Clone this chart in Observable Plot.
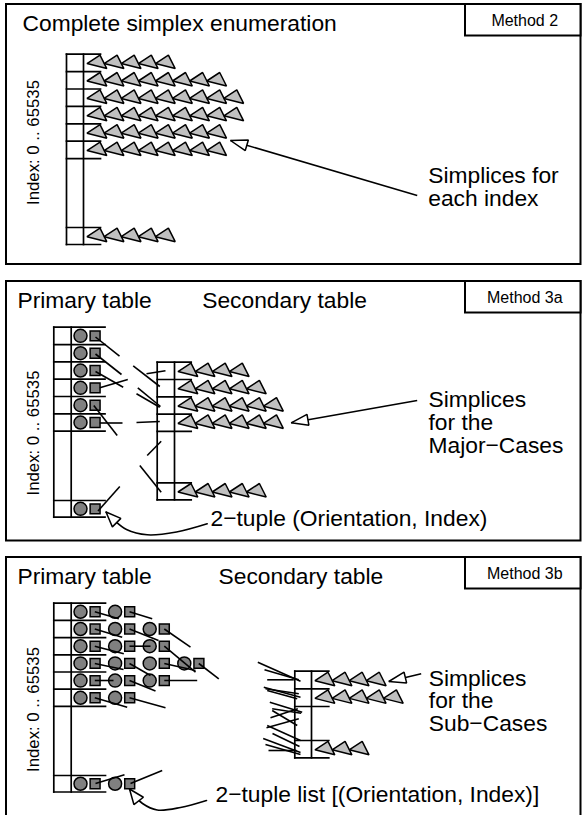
<!DOCTYPE html>
<html><head><meta charset="utf-8">
<script src="https://cdn.jsdelivr.net/npm/d3@7"></script>
<script src="https://cdn.jsdelivr.net/npm/@observablehq/plot@0.6"></script>
<style>body{margin:0;background:#fff}</style>
</head><body><div id="chart"></div>
<script>
// ---------------- data ----------------
const methods = ["Method 2", "Method 3a", "Method 3b"];
const leftTitles = ["Complete simplex enumeration", "Primary table", "Primary table"];
const rightTitles = ["", "Secondary table", "Secondary table"];
const indexLabel = "Index: 0 .. 65535";
const simplicesM2 = [5, 8, 9, 9, 8, 8, 5];     // six rows + last index
const tuplesM3a = [1, 1, 1, 1, 1, 1, 1];        // primary table 3a
const simplicesM3a = [4, 5, 6, 6, 5];           // four rows + last
const tuplesM3b = [2, 3, 3, 4, 3, 2, 2];        // primary table 3b
const simplicesM3b = [4, 5, 3];                 // two rows + last
const notes = [["Simplices for", "each index"], ["Simplices", "for the", "Major\u2212Cases"], ["Simplices", "for the", "Sub\u2212Cases"]];
const tupleNotes = ["2\u2212tuple (Orientation, Index)", "2\u2212tuple list [(Orientation, Index)]"];

// ---------------- layout (diagram units) ----------------
const FS = 22.8;
const L = {
  panels: [[6, 4, 580.5, 264], [6, 281, 580.5, 540.5], [6, 557, 580.5, 830]],
  methodX1: 465, methodH: 31.5,
  titleX: [22, 17, 17], rightTitleX: [0, 201.7, 218], titleDy: 26,
  indexX: 33, indexY: [142, 432.5, 709],
  noteX: [427.7, 428, 428.3], noteY: [182.7, 406.7, 685], noteLH: 22.8,
  tupleNoteXY: [[210, 525], [215, 801.7]],
  grids: {
    m2:  {left: 66,    top: 53.7,  rowH: 17.4,  colW: 17,   right: 100,   lastTop: 227,   cellH: 17},
    p3a: {left: 53.3,  top: 326.7, rowH: 17.33, colW: 17.4, right: 104.5, lastTop: 500,   cellH: 16.7},
    s3a: {left: 156.7, top: 361.7, rowH: 17.3,  colW: 17.3, right: 190.7, lastTop: 482.3, cellH: 17},
    p3b: {left: 53.3,  top: 602.7, rowH: 17.2,  colW: 17.4, right: 105,   lastTop: 775,   cellH: 16.5},
    s3b: {left: 294.3, top: 670.7, rowH: 17.65, colW: 16.7, right: 328.3, lastTop: 740,   cellH: 17.3}
  },
  triStep: 17.1, pairStep: 34.6,
  stubs: [
    // Method 3a: pointers out of the primary table
    [95,336.5,119,355.7],[95,353.5,121,374],[95,371,122.7,386.7],[99.3,387.3,127.3,379],[93.3,405,116.7,435],[99.3,422.5,122,422.5],
    // Method 3a: pointers into the secondary table
    [132.7,365.3,159.3,386],[146,373.3,165,370.3],[137.3,387.3,160,406],[136,393.3,159.3,406.7],[136,422,159.3,421],[146.7,455,160.7,440.7],[139.3,465,160.7,491.7],
    [97.5,510.5,119.3,486],
    // Method 3b: pointers out of the primary table
    [94.3,611.3,118.3,618.3],[129,611.3,151.7,618.3],
    [94.3,628.5,121.7,636.7],[129,628.5,158,640],[163.8,628.5,190,646.7],
    [94.3,645.7,123.3,653.3],[129,645.7,150,645.7],[163.8,645.7,195,671.7],
    [94.3,663,123,669],[129,663,150,675],[163.8,663,195,670],[198.3,663,218.3,678.3],
    [94.3,680,113,680],[129,680,155,690.5],[163.8,680,196.7,680],
    [94.3,697.3,126.7,706.7],[129,697.3,165,707.3],
    [95,783,124,774.3],[130,783,161.7,770],
    // Method 3b: pointers into the secondary table
    [257.3,661.7,300,680.7],[264,669.3,298.3,679.3],[266.7,679.3,293.3,679.3],
    [263.3,686.7,300,696.7],[265,688.3,298.3,693.3],[266.7,690,296.7,698.3],
    [269.3,701.7,301.7,711.7],[271.7,708.3,300.7,712.7],
    [270,717.3,297.3,708.3],[271.7,710,296.7,725],[266,727.3,298.3,718.3],[266.7,725,300,740],
    [262.7,738,300,752],[265,744,300,754],[268,750,296,750],[272,733,299,746]
  ],
  arrows: [[416.7,195,230,140],[416.7,400,290.7,422.3],[420.7,673.3,388.3,681]],
  curves: [
    [[206.7,523.3],[176,531.5],[146.7,534.3],[126,529],[113,519],[105.5,511.5]],
    [[206,800],[180,807],[156.7,809.5],[142,803],[134,795],[129,788.5]]
  ]
};

// ---------------- derived geometry ----------------
const links = [];
const polys = [];
const circles = [];
const squares = [];
function rowCenter(g, i, n) { return i < n ? g.top + (i + 0.5) * g.rowH : g.lastTop + g.cellH / 2; }
function grid(g, nRows) {
  const mid = g.left + g.colW, bottom = g.lastTop + g.cellH;
  links.push({x1: g.left, y1: g.top, x2: g.left, y2: bottom});
  links.push({x1: mid, y1: g.top, x2: mid, y2: bottom});
  for (let i = 0; i <= nRows; i++) { const y = g.top + i * g.rowH; links.push({x1: g.left, y1: y, x2: g.right, y2: y}); }
  links.push({x1: g.left, y1: g.lastTop, x2: g.right, y2: g.lastTop});
  links.push({x1: g.left, y1: bottom, x2: g.right, y2: bottom});
}
let pid = 0;
function simplices(g, counts) {
  const n = counts.length - 1;
  grid(g, n);
  counts.forEach((c, i) => {
    const cy = rowCenter(g, i, n) + 0.7;
    for (let k = 0; k < c; k++) {
      const tx = g.left + g.colW + 3.5 + k * L.triStep;
      const id = pid++;
      [[0, 0], [13, -8.5], [19.8, 5]].forEach(([dx, dy]) => polys.push({id, x: tx + dx, y: cy + dy, fill: "#c0c0c0"}));
    }
  });
}
function tuples(g, counts) {
  const n = counts.length - 1;
  grid(g, n);
  counts.forEach((c, i) => {
    const cy = rowCenter(g, i, n);
    for (let k = 0; k < c; k++) {
      const cx = g.left + g.colW + 9.3 + k * L.pairStep;
      circles.push({x: cx, y: cy});
      squares.push({x: cx + 14.6, y: cy});
    }
  });
}
simplices(L.grids.m2, simplicesM2);
tuples(L.grids.p3a, tuplesM3a);
simplices(L.grids.s3a, simplicesM3a);
tuples(L.grids.p3b, tuplesM3b);
simplices(L.grids.s3b, simplicesM3b);

const stubLinks = L.stubs.map(([x1, y1, x2, y2]) => ({x1, y1, x2, y2}));
const arrowLinks = L.arrows.map(([x1, y1, x2, y2]) => ({x1, y1, x2, y2}));
function head(fx, fy, tx, ty, len, w) {
  const dx = fx - tx, dy = fy - ty, d = Math.hypot(dx, dy), ux = dx / d, uy = dy / d;
  const id = pid++;
  [[tx, ty], [tx + len * ux - w * uy, ty + len * uy + w * ux], [tx + len * ux + w * uy, ty + len * uy - w * ux]]
    .forEach(([x, y]) => polys.push({id, x, y, fill: "white"}));
}
L.arrows.forEach(([x1, y1, x2, y2]) => head(x1, y1, x2, y2, 17, 5.5));
const curvePts = [];
L.curves.forEach((c, j) => {
  c.forEach(([x, y]) => curvePts.push({c: j, x, y}));
  const [a, b] = c.slice(-2);
  head(a[0], a[1], b[0], b[1], 15, 6);
});

// texts
const panelTops = L.panels.map(p => p[1]);
const titleTexts = [];
leftTitles.forEach((t, i) => titleTexts.push({x: L.titleX[i], y: panelTops[i] + L.titleDy, t}));
rightTitles.forEach((t, i) => { if (t) titleTexts.push({x: L.rightTitleX[i], y: panelTops[i] + L.titleDy, t}); });
tupleNotes.forEach((t, i) => titleTexts.push({x: L.tupleNoteXY[i][0], y: L.tupleNoteXY[i][1], t}));
// multi-line notes: y is the baseline of the last line
const noteTexts = notes.map((lines, i) => ({x: L.noteX[i], y: L.noteY[i] + (lines.length - 1) * L.noteLH, t: lines.join("\n")}));
const methodBoxes = methods.map((m, i) => ({x1: L.methodX1, y1: panelTops[i], x2: L.panels[i][2], y2: panelTops[i] + L.methodH, m}));
const frames = L.panels.map(([x1, y1, x2, y2]) => ({x1, y1, x2, y2}));
const indexTexts = L.indexY.map(y => ({x: L.indexX, y, t: indexLabel}));

const chart = Plot.plot({
  width: 583, height: 815, margin: 0,
  x: {domain: [0, 583], range: [0, 583], axis: null},
  y: {domain: [0, 815], range: [0, 815], axis: null},
  style: {fontFamily: "'Liberation Sans', Arial, Helvetica, sans-serif", background: "white", color: "black"},
  marks: [
    Plot.rect(frames, {x1: "x1", y1: "y1", x2: "x2", y2: "y2", fill: "white", stroke: "black", strokeWidth: 2}),
    Plot.rect(methodBoxes, {x1: "x1", y1: "y1", x2: "x2", y2: "y2", fill: "white", stroke: "black", strokeWidth: 2}),
    Plot.text(methodBoxes, {x: d => (d.x1 + d.x2) / 2 + 1.5, y: d => (d.y1 + d.y2) / 2 + 0.5, text: "m", fontSize: 16, fill: "black"}),
    Plot.text(titleTexts, {x: "x", y: "y", text: "t", textAnchor: "start", lineAnchor: "bottom", fontSize: FS, fill: "black"}),
    Plot.text(noteTexts, {x: "x", y: "y", text: "t", textAnchor: "start", lineAnchor: "bottom", lineHeight: L.noteLH / FS, fontSize: FS, fill: "black"}),
    Plot.text(indexTexts, {x: "x", y: "y", text: "t", rotate: -90, fontSize: 16.8, fill: "black"}),
    Plot.link(links, {x1: "x1", y1: "y1", x2: "x2", y2: "y2", stroke: "black", strokeWidth: 1.7, strokeLinecap: "square"}),
    Plot.line(polys.filter(d => d.fill !== "white"), {x: "x", y: "y", z: "id", curve: "linear-closed", fill: "#c0c0c0", stroke: "black", strokeWidth: 1.5, strokeLinejoin: "miter"}),
    Plot.dot(circles, {x: "x", y: "y", r: 6.5, fill: "#808080", stroke: "black", strokeWidth: 1.5}),
    Plot.dot(squares, {x: "x", y: "y", r: 5.6, symbol: "square", fill: "#808080", stroke: "black", strokeWidth: 1.5}),
    Plot.link(stubLinks, {x1: "x1", y1: "y1", x2: "x2", y2: "y2", stroke: "black", strokeWidth: 1.6}),
    Plot.link(arrowLinks, {x1: "x1", y1: "y1", x2: "x2", y2: "y2", stroke: "black", strokeWidth: 1.6}),
    Plot.line(curvePts, {x: "x", y: "y", z: "c", curve: "catmull-rom", stroke: "black", strokeWidth: 1.6}),
    Plot.line(polys.filter(d => d.fill === "white"), {x: "x", y: "y", z: "id", curve: "linear-closed", fill: "white", stroke: "black", strokeWidth: 1.5, strokeLinejoin: "miter"})
  ]
});
document.getElementById("chart").append(chart);
</script>
</body></html>
